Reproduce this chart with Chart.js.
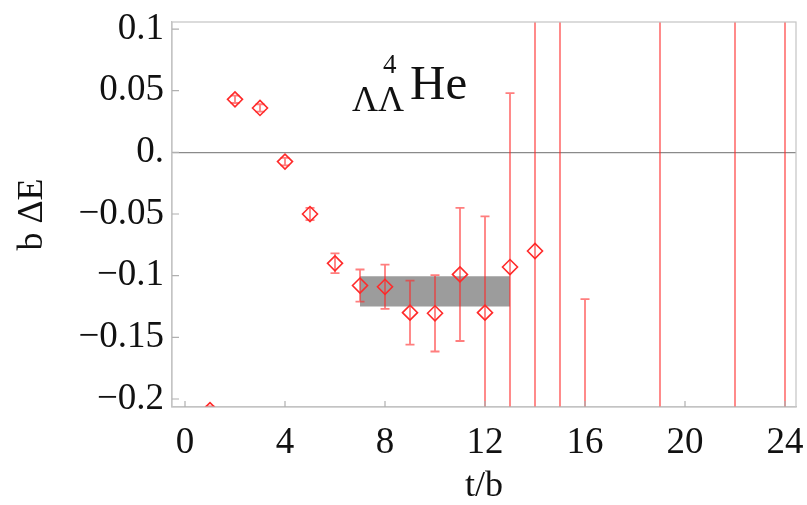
<!DOCTYPE html>
<html>
<head>
<meta charset="utf-8">
<script src="https://cdn.jsdelivr.net/npm/chart.js@4/dist/chart.umd.min.js"></script>
<style>
  html, body { margin: 0; padding: 0; background: #fff; }
  #wrap { width: 807px; height: 505px; }
</style>
</head>
<body>
<div id="wrap"><canvas id="energyChart" width="807" height="505"></canvas></div>
<script>
// t/b values, b*dE values and their (symmetric) errors
const tValues  = [1, 2, 3, 4, 5, 6, 7, 8, 9, 10, 11, 12, 13, 14, 15, 16, 19, 22, 24];
const dEValues = [-0.209, 0.043, 0.036, -0.0075, -0.05, -0.09, -0.108, -0.109, -0.13, -0.1305,
                  -0.099, -0.13, -0.093, -0.08, -0.35, -0.5, 0.3, -0.4, 0.2];
const dEErrors = [0.003, 0.003, 0.003, 0.003, 0.005, 0.008, 0.013, 0.018, 0.026, 0.031,
                  0.054, 0.078, 0.141, 0.6, 0.6, 0.381, 1.0, 1.0, 1.0];

// fitted plateau band
const bandT = [7, 13];
const bandLow = -0.125;
const bandHigh = -0.1005;

const xTicks = [0, 4, 8, 12, 16, 20, 24];
const yTicks = [-0.2, -0.15, -0.1, -0.05, 0, 0.05, 0.1];

const serif = "'Liberation Serif', 'DejaVu Serif', serif";

document.addEventListener('DOMContentLoaded', function() {
    var ctx = document.getElementById('energyChart').getContext('2d');

    var points = tValues.map((t, i) => ({ x: t, y: dEValues[i] }));

    // error bars, drawn through the scales
    const errorBars = {
        id: 'errorBars',
        afterDatasetsDraw(chart) {
            const c = chart.ctx, area = chart.chartArea;
            const xs = chart.scales.x, ys = chart.scales.y;
            c.save();
            c.beginPath();
            c.rect(area.left, area.top, area.right - area.left, area.bottom - area.top);
            c.clip();
            c.strokeStyle = 'rgba(255,40,40,0.6)';
            c.lineWidth = 1.8;
            tValues.forEach((t, i) => {
                const px = xs.getPixelForValue(t);
                const yHi = ys.getPixelForValue(dEValues[i] + dEErrors[i]);
                const yLo = ys.getPixelForValue(dEValues[i] - dEErrors[i]);
                c.beginPath();
                c.moveTo(px, yHi);
                c.lineTo(px, yLo);
                [yHi, yLo].forEach(py => {
                    if (py > area.top && py < area.bottom) {
                        c.moveTo(px - 4.5, py);
                        c.lineTo(px + 4.5, py);
                    }
                });
                c.stroke();
            });
            c.restore();
        }
    };

    // frame, inner tick marks and the label text
    const frame = {
        id: 'frame',
        afterDraw(chart) {
            const c = chart.ctx, a = chart.chartArea;
            const xs = chart.scales.x, ys = chart.scales.y;
            c.save();
            c.strokeStyle = '#c4c4c4';
            c.lineWidth = 1.2;
            c.strokeRect(a.left, a.top, a.right - a.left, a.bottom - a.top);
            c.strokeStyle = '#b0b0b0';
            c.beginPath();
            yTicks.forEach(v => {
                const py = ys.getPixelForValue(v);
                c.moveTo(a.left, py);
                c.lineTo(a.left + 7, py);
            });
            xTicks.forEach(v => {
                const px = xs.getPixelForValue(v);
                c.moveTo(px, a.bottom);
                c.lineTo(px, a.bottom - 6);
            });
            c.stroke();

            c.fillStyle = '#111';
            c.textBaseline = 'alphabetic';
            c.textAlign = 'left';
            c.font = '36px ' + serif;
            c.fillText('ΛΛ', 352, 111);
            c.font = '27px ' + serif;
            c.fillText('4', 383, 73);
            c.font = '49px ' + serif;
            c.fillText('He', 410, 99);
            c.restore();
        }
    };

    window.energyChart = new Chart(ctx, {
        type: 'scatter',
        data: {
            datasets: [
                {
                    label: 'band top',
                    type: 'line',
                    data: [{ x: bandT[0], y: bandHigh }, { x: bandT[1], y: bandHigh }],
                    borderWidth: 0,
                    pointRadius: 0,
                    fill: '+1',
                    backgroundColor: '#9c9c9c',
                    order: 3
                },
                {
                    label: 'band bottom',
                    type: 'line',
                    data: [{ x: bandT[0], y: bandLow }, { x: bandT[1], y: bandLow }],
                    borderWidth: 0,
                    pointRadius: 0,
                    fill: false,
                    order: 3
                },
                {
                    label: 'b dE',
                    data: points,
                    pointStyle: 'rectRot',
                    pointRadius: 7.5,
                    pointHoverRadius: 7.5,
                    pointBorderWidth: 1.6,
                    borderColor: '#ff2a2a',
                    backgroundColor: 'rgba(0,0,0,0)',
                    clip: 0,
                    order: 1
                }
            ]
        },
        options: {
            responsive: false,
            animation: false,
            layout: { padding: { top: 22, right: 11, left: 0, bottom: 0 } },
            plugins: {
                legend: { display: false },
                tooltip: { enabled: false }
            },
            scales: {
                x: {
                    type: 'linear',
                    min: -0.52,
                    max: 24.44,
                    afterFit: s => { s.height = 98; s.paddingLeft = 0; s.paddingRight = 0; },
                    afterBuildTicks: s => { s.ticks = xTicks.map(v => ({ value: v })); },
                    grid: { display: false },
                    border: { display: true, color: '#c4c4c4', width: 1.2 },
                    ticks: {
                        padding: 6,
                        maxRotation: 0,
                        color: '#111',
                        font: { family: serif, size: 37 }
                    },
                    title: {
                        display: true,
                        text: 't/b',
                        color: '#111',
                        font: { family: serif, size: 36, lineHeight: 1 },
                        padding: { top: 0, bottom: 0 }
                    }
                },
                y: {
                    min: -0.2065,
                    max: 0.1057,
                    afterFit: s => { s.width = 172; s.paddingTop = 0; s.paddingBottom = 0; },
                    afterBuildTicks: s => { s.ticks = yTicks.map(v => ({ value: v })); },
                    grid: {
                        drawTicks: false,
                        color: c => (Math.abs(c.tick.value) < 1e-9 ? '#8a8a8a' : 'rgba(0,0,0,0)'),
                        lineWidth: 1.2
                    },
                    border: { display: true, color: '#c4c4c4', width: 1.2 },
                    ticks: {
                        padding: 8,
                        color: '#111',
                        font: { family: serif, size: 37 },
                        callback: v => {
                            if (Math.abs(v) < 1e-9) return '0.';
                            return (v < 0 ? '\u2212' : '') + Number(Math.abs(v).toFixed(2)).toString();
                        }
                    },
                    title: {
                        display: true,
                        text: 'b ΔE',
                        color: '#111',
                        font: { family: serif, size: 36, lineHeight: 1 },
                        padding: { top: 15, bottom: 0 }
                    }
                }
            }
        },
        plugins: [errorBars, frame]
    });
});
</script>
</body>
</html>
